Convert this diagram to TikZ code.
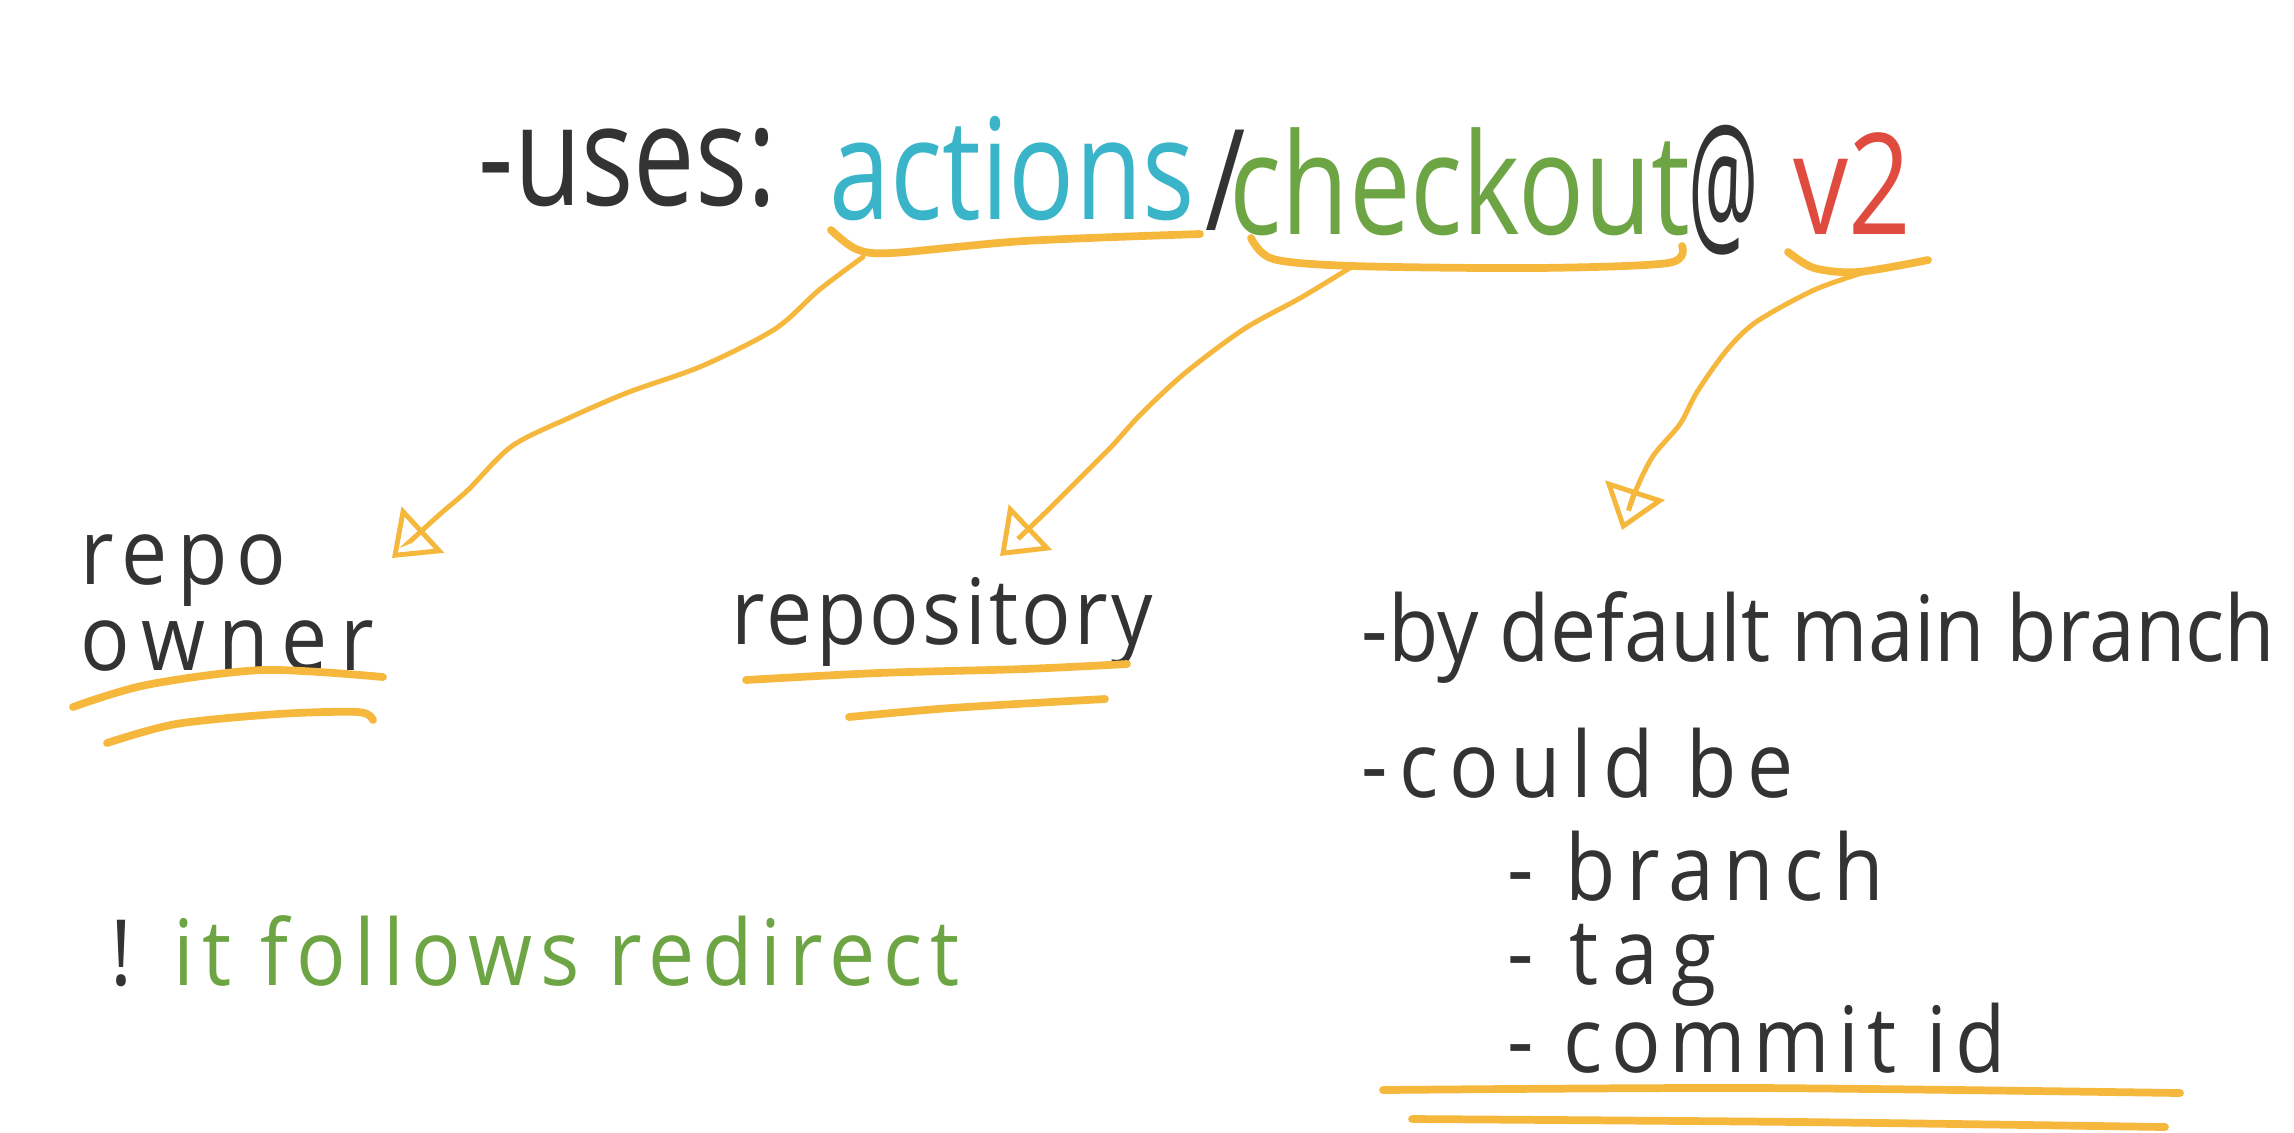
\documentclass[tikz,border=0pt]{standalone}
\usepackage{graphicx}
\usepackage{fontspec}
\setmainfont{Open Sans}[FakeStretch=0.9]
\newfontfamily\titlefont{Open Sans}[FakeStretch=0.78]
\usetikzlibrary{arrows.meta}
\definecolor{ink}{HTML}{333333}
\definecolor{acyan}{HTML}{3AB4C8}
\definecolor{agreen}{HTML}{6DA544}
\definecolor{ared}{HTML}{E04B3F}
\definecolor{marker}{HTML}{F5B83D}

\begin{document}
\begin{tikzpicture}[x=0.01cm, y=-0.01cm,
        big/.style={anchor=base, inner sep=0pt, font=\titlefont\fontsize{40}{48}\selectfont},
        txt/.style={anchor=base west, inner sep=0pt, text=ink,
            font=\fontsize{26}{32}\selectfont\addfontfeature{LetterSpace=#1}},
        txt/.default=0,
        hl/.style={draw=marker, line width=2.2pt, line cap=round, line join=round},
        ptr/.style={draw=marker, line width=1.4pt, line cap=round,
            -{Triangle[open, length=0.42cm, width=0.62cm]}}]
        \fill[white] (0,0) rectangle (2294,1132);
        \useasboundingbox (0,0) rectangle (2294,1132);

        % Title line
        \node[big, text=ink] (uses) at (628,205) {-uses:};
        \node[big, text=acyan] (actions) at (1012,219) {actions};
        \node[big, text=ink] (slash) at (1226,230) {/};
        \node[big, text=agreen] (checkout) at (1460,234) {checkout};
        \node[big, text=ink, font=\titlefont\fontsize{46}{54}\selectfont] (atsign) at (1724,240) {\scalebox{0.62}[1]{@}};
        \node[big, text=ared] (vtwo) at (1852,234) {v2};

        % Braces under the parts
        \draw[hl] plot[smooth] coordinates {(831,230) (856,249) (892,253) (1024,241) (1200,234)};
        \draw[hl] plot[smooth] coordinates {(1251,238) (1273,259) (1353,266) (1536,268) (1668,263) (1682,246)};
        \draw[hl] plot[smooth] coordinates {(1788,252) (1814,268) (1858,272) (1928,260)};
        \coordinate (actfoot) at (863,257);
        \coordinate (chkfoot) at (1353,266);
        \coordinate (verfoot) at (1865,272);

        % Targets
        \node[txt=10] (repo) at (80,584) {repo};
        \node[txt=14] (owner) at (80,670) {owner};
        \node[txt=3.5] (repository) at (731,644) {repository};
        \node[txt] (default) at (1361,661) {-by default main branch};
        \node[txt=12] (could) at (1361,797) {-could be};
        \node[txt=11] (branch) at (1507,900) {- branch};
        \node[txt=15] (tag) at (1507,984) {- tag};
        \node[txt=9] (commit) at (1507,1072) {- commit id};
        \node[txt] (redirect) at (110,985) {!\hspace{0.45em}\addfontfeature{LetterSpace=8.7}\textcolor{agreen}{it follows redirect}};

        \coordinate (ownertip) at (392,558);
        \coordinate (repotip) at (1000,556);
        \coordinate (deftip) at (1622,530);

        % Arrows
        \draw[ptr] plot[smooth] coordinates {(actfoot) (819,290) (775,329) (702,366) (629,392)
            (571,417) (512,446) (468,490) (439,515) (ownertip)};
        \draw[ptr] plot[smooth] coordinates {(chkfoot) (1302,297) (1244,329) (1185,373) (1141,414)
            (1112,446) (1083,475) (1046,512) (repotip)};
        \draw[ptr] plot[smooth] coordinates {(verfoot) (1814,290) (1756,322) (1726,351) (1697,392)
            (1680,424) (1653,456) (1636,490) (deftip)};

        % Underlines
        \draw[hl] plot[smooth] coordinates {(73,707) (146,685) (263,670) (383,677)};
        \draw[hl] plot[smooth] coordinates {(107,743) (176,724) (278,714) (358,712) (373,720)};
        \draw[hl] plot[smooth] coordinates {(746,680) (878,673) (1024,669) (1127,664)};
        \draw[hl] plot[smooth] coordinates {(849,717) (951,708) (1105,699)};
        \draw[hl] plot[smooth] coordinates {(1383,1090) (1756,1088) (2180,1093)};
        \draw[hl] plot[smooth] coordinates {(1412,1119) (1800,1122) (2165,1127)};
\end{tikzpicture}
\end{document}
